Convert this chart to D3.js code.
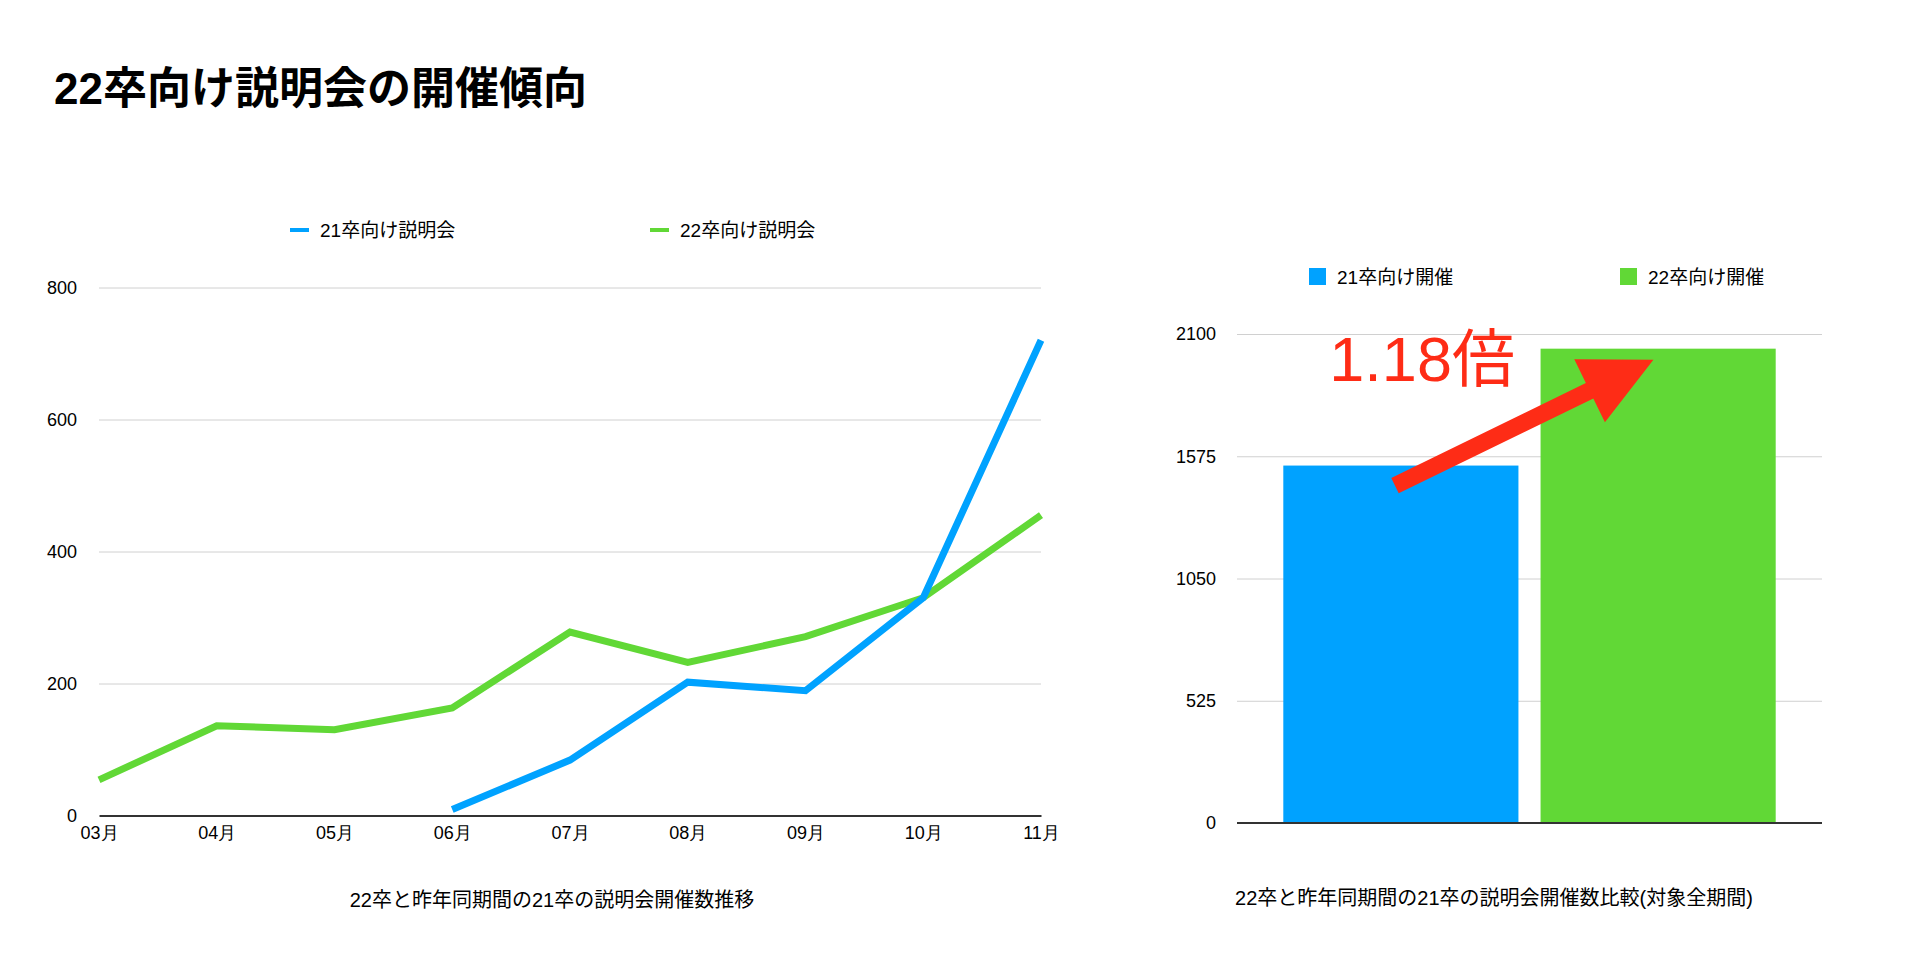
<!DOCTYPE html>
<html>
<head>
<meta charset="utf-8">
<script src="https://cdn.jsdelivr.net/npm/d3@7"></script>
<style>
  html, body { margin: 0; padding: 0; background: #fff; }
  svg { display: block; font-family: "Liberation Sans", "Noto Sans CJK JP", sans-serif; }
</style>
</head>
<body>
<svg id="chart" width="1920" height="968"></svg>
<script>
// ---- Data ----
const title = "22卒向け説明会の開催傾向";

const months = ["03月", "04月", "05月", "06月", "07月", "08月", "09月", "10月", "11月"];
const series21 = [null, null, null, 9, 84, 202, 189, 330, 720];
const series22 = [54, 136, 130, 163, 278, 232, 271, 330, 455];
const lineSeriesNames = ["21卒向け説明会", "22卒向け説明会"];
const lineTicks = [0, 200, 400, 600, 800];
const lineCaption = "22卒と昨年同期間の21卒の説明会開催数推移";

const barCategories = ["21卒向け開催", "22卒向け開催"];
const barValues = [1535, 2037];
const barTicks = [0, 525, 1050, 1575, 2100];
const barCaption = "22卒と昨年同期間の21卒の説明会開催数比較(対象全期間)";
const ratioLabel = "1.18倍";

const colors = ["#00A2FF", "#61D836"];
const red = "#FE2C16";

// ---- Drawing ----
const svg = d3.select("#chart");

svg.append("text")
  .attr("x", 54).attr("y", 104)
  .attr("font-size", 44).attr("font-weight", "bold")
  .attr("fill", "#000")
  .text(title);

// ===== Left line chart =====
const L = { left: 99, right: 1041, top: 287.5, bottom: 815.5 };
const x = d3.scalePoint().domain(months).range([L.left, L.right]);
const y = d3.scaleLinear().domain([0, 800]).range([L.bottom, L.top]);

const gy = svg.append("g").attr("transform", `translate(${L.left},0)`)
  .call(d3.axisLeft(y).tickValues(lineTicks).tickFormat(d3.format("d")).tickSize(-(L.right - L.left)).tickPadding(22));
gy.select(".domain").remove();
gy.selectAll(".tick line").attr("stroke", "#d0d0d0").attr("stroke-width", 1);
gy.selectAll(".tick text").attr("font-size", 18).attr("fill", "#000");
gy.selectAll(".tick").filter(d => d === 0).select("line").remove();

const gx = svg.append("g").attr("transform", `translate(0,${L.bottom})`)
  .call(d3.axisBottom(x).tickSize(0).tickPadding(11));
gx.select(".domain").attr("stroke", "#333").attr("stroke-width", 2);
gx.selectAll(".tick text").attr("font-size", 18).attr("fill", "#000");

const lineGen = d3.line()
  .defined(d => d.v !== null)
  .x(d => x(d.m))
  .y(d => y(d.v));

[series22, series21].forEach((s, i) => {
  const color = i === 0 ? colors[1] : colors[0];
  svg.append("path")
    .datum(s.map((v, j) => ({ m: months[j], v })))
    .attr("fill", "none")
    .attr("stroke", color)
    .attr("stroke-width", 7)
    .attr("stroke-linejoin", "miter")
    .attr("stroke-linecap", "butt")
    .attr("d", lineGen);
});

// Left legend
const legL = [{ x: 290, name: lineSeriesNames[0], c: colors[0] }, { x: 650, name: lineSeriesNames[1], c: colors[1] }];
legL.forEach(d => {
  svg.append("line").attr("x1", d.x).attr("x2", d.x + 19).attr("y1", 230).attr("y2", 230)
    .attr("stroke", d.c).attr("stroke-width", 4);
  svg.append("text").attr("x", d.x + 30).attr("y", 236.5).attr("font-size", 19).attr("fill", "#000").text(d.name);
});

svg.append("text").attr("x", 552).attr("y", 907).attr("text-anchor", "middle")
  .attr("font-size", 20).attr("fill", "#000").text(lineCaption);

// ===== Right bar chart =====
const R = { left: 1237, right: 1822, top: 334, bottom: 823 };
const xb = d3.scaleBand().domain(barCategories).range([R.left, R.right]).paddingInner(0.086).paddingOuter(0.18);
const yb = d3.scaleLinear().domain([0, 2100]).range([R.bottom, R.top]);

const gyb = svg.append("g").attr("transform", `translate(${R.left},0)`)
  .call(d3.axisLeft(yb).tickValues(barTicks).tickFormat(d3.format("d")).tickSize(-(R.right - R.left)).tickPadding(21));
gyb.select(".domain").remove();
gyb.selectAll(".tick line").attr("stroke", "#d0d0d0").attr("stroke-width", 1);
gyb.selectAll(".tick text").attr("font-size", 18).attr("fill", "#000");
gyb.selectAll(".tick").filter(d => d === 0).select("line").remove();

svg.selectAll(".bar").data(barCategories).enter().append("rect")
  .attr("x", d => xb(d))
  .attr("width", xb.bandwidth())
  .attr("y", (d, i) => yb(barValues[i]))
  .attr("height", (d, i) => yb(0) - yb(barValues[i]))
  .attr("fill", (d, i) => colors[i]);

svg.append("line").attr("x1", R.left).attr("x2", R.right).attr("y1", R.bottom).attr("y2", R.bottom)
  .attr("stroke", "#333").attr("stroke-width", 2);

// Right legend
const legR = [{ x: 1309 }, { x: 1620 }];
legR.forEach((d, i) => {
  svg.append("rect").attr("x", d.x).attr("y", 268).attr("width", 17).attr("height", 17).attr("fill", colors[i]);
  svg.append("text").attr("x", d.x + 28).attr("y", 283.5).attr("font-size", 19).attr("fill", "#000").text(barCategories[i]);
});

svg.append("text").attr("x", 1494).attr("y", 905).attr("text-anchor", "middle")
  .attr("font-size", 20).attr("fill", "#000").text(barCaption);

// Ratio annotation arrow (anchored to the bars)
const bw = xb.bandwidth();
const tail = [xb(barCategories[0]) + bw * 0.475, yb(barValues[0]) + 20];
const tip = [xb(barCategories[1]) + bw * 0.48, yb(barValues[1]) + 11];
const dx = tip[0] - tail[0], dy = tip[1] - tail[1];
const len = Math.hypot(dx, dy);
const ux = dx / len, uy = dy / len;
const nx = -uy, ny = ux;
const shaftW = 17, headW = 70, headL = 71;
const base = [tip[0] - ux * headL, tip[1] - uy * headL];
const pts = [
  [tail[0] + nx * shaftW / 2, tail[1] + ny * shaftW / 2],
  [base[0] + nx * shaftW / 2, base[1] + ny * shaftW / 2],
  [base[0] + nx * headW / 2, base[1] + ny * headW / 2],
  tip,
  [base[0] - nx * headW / 2, base[1] - ny * headW / 2],
  [base[0] - nx * shaftW / 2, base[1] - ny * shaftW / 2],
  [tail[0] - nx * shaftW / 2, tail[1] - ny * shaftW / 2]
];
svg.append("path").attr("d", d3.line()(pts) + "Z").attr("fill", red);

svg.append("text").attr("x", xb(barCategories[0]) + 46).attr("y", 381)
  .attr("font-size", 63).attr("fill", red).text(ratioLabel);
</script>
</body>
</html>
